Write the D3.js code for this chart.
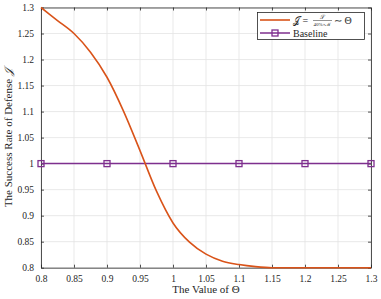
<!DOCTYPE html>
<html>
<head>
<script src="https://d3js.org/d3.v7.min.js"></script>
<style>
  body { margin: 0; background: #fff; }
  svg text { font-family: "Liberation Serif", "Times New Roman", serif; fill: #262626; }
</style>
</head>
<body>
<script>
// curve J = S / (40% x M) ~ Theta
var thetaValues = [0.8, 0.825, 0.85, 0.875, 0.9, 0.925, 0.95, 0.975, 1.0, 1.025, 1.05, 1.075, 1.1, 1.125, 1.15, 1.2, 1.25, 1.3];
var jValues     = [1.3, 1.275, 1.25, 1.214, 1.166, 1.101, 1.025, 0.947, 0.886, 0.849, 0.826, 0.8125, 0.806, 0.802, 0.8, 0.8, 0.8, 0.8];
// baseline with markers
var baseTheta = [0.8, 0.9, 1.0, 1.1, 1.2, 1.3];
var baseValues = [1, 1, 1, 1, 1, 1];
var xTicks = [0.8, 0.85, 0.9, 0.95, 1, 1.05, 1.1, 1.15, 1.2, 1.25, 1.3];
var yTicks = [0.8, 0.85, 0.9, 0.95, 1, 1.05, 1.1, 1.15, 1.2, 1.25, 1.3];

var W = 381, H = 299;
var pL = 41, pR = 371, pT = 7.5, pB = 267.7;
var serif = '"Liberation Serif", "Times New Roman", serif';

var svg = d3.select("body").append("svg")
    .attr("width", W)
    .attr("height", H)
    .attr("font-family", serif);

var x = d3.scaleLinear().domain([0.8, 1.3]).range([pL, pR]);
var y = d3.scaleLinear().domain([0.8, 1.3]).range([pB, pT]);

// grid
svg.append("g").selectAll("line").data(xTicks).enter().append("line")
    .attr("x1", function(d) { return x(d); }).attr("x2", function(d) { return x(d); })
    .attr("y1", pT).attr("y2", pB)
    .style("stroke", "#e3e3e3").style("stroke-width", 0.8);
svg.append("g").selectAll("line").data(yTicks).enter().append("line")
    .attr("y1", function(d) { return y(d); }).attr("y2", function(d) { return y(d); })
    .attr("x1", pL).attr("x2", pR)
    .style("stroke", "#e3e3e3").style("stroke-width", 0.8);

var fmt = function(d) { return String(+d.toFixed(2)); };

// axes (ticks inward)
var gx = svg.append("g").attr("transform", "translate(0," + pB + ")")
    .call(d3.axisBottom(x).tickValues(xTicks).tickSizeInner(-3).tickSizeOuter(0).tickPadding(8).tickFormat(fmt));
var gxt = svg.append("g").attr("transform", "translate(0," + pT + ")")
    .call(d3.axisTop(x).tickValues(xTicks).tickSizeInner(-3).tickSizeOuter(0).tickFormat(""));
var gy = svg.append("g").attr("transform", "translate(" + pL + ",0)")
    .call(d3.axisLeft(y).tickValues(yTicks).tickSizeInner(-3).tickSizeOuter(0).tickPadding(7).tickFormat(fmt));
var gyr = svg.append("g").attr("transform", "translate(" + pR + ",0)")
    .call(d3.axisRight(y).tickValues(yTicks).tickSizeInner(-3).tickSizeOuter(0).tickFormat(""));

[gx, gxt, gy, gyr].forEach(function(g) {
  g.attr("font-family", serif).attr("font-size", 9.5);
  g.select(".domain").style("stroke", "#262626").style("stroke-width", 0.8);
  g.selectAll(".tick line").style("stroke", "#262626").style("stroke-width", 0.8);
  g.selectAll("text").style("fill", "#262626");
});

// baseline
var baseData = baseTheta.map(function(t, i) { return {x: t, y: baseValues[i]}; });
var line = d3.line().x(function(d) { return x(d.x); }).y(function(d) { return y(d.y); });
svg.append("path").attr("d", line(baseData))
    .style("stroke", "#7E2F8E").style("stroke-width", 1.5).style("fill", "none");
svg.selectAll("rect.mk").data(baseData).enter().append("rect")
    .attr("class", "mk")
    .attr("x", function(d) { return x(d.x) - 3; })
    .attr("y", function(d) { return y(d.y) - 3; })
    .attr("width", 6).attr("height", 6)
    .style("fill", "none").style("stroke", "#7E2F8E").style("stroke-width", 1.3);

// curve
var curveData = thetaValues.map(function(t, i) { return {x: t, y: jValues[i]}; });
var curve = d3.line().curve(d3.curveMonotoneX)
    .x(function(d) { return x(d.x); }).y(function(d) { return y(d.y); });
svg.append("path").attr("d", curve(curveData))
    .style("stroke", "#D95319").style("stroke-width", 1.6).style("fill", "none");

// axis labels
svg.append("text")
    .attr("x", (pL + pR) / 2).attr("y", 293)
    .attr("text-anchor", "middle")
    .style("font-size", "11px")
    .text("The Value of Θ");
svg.append("text")
    .attr("transform", "translate(12," + ((pT + pB) / 2) + ") rotate(-90)")
    .attr("text-anchor", "middle")
    .style("font-size", "11px")
    .html("The Success Rate of Defense <tspan font-style='italic'>𝒥</tspan>");

// legend
var lg = svg.append("g");
lg.append("rect").attr("x", 257.5).attr("y", 12.5).attr("width", 107).attr("height", 27)
    .style("fill", "#fff").style("stroke", "#262626").style("stroke-width", 0.8);
lg.append("line").attr("x1", 260).attr("x2", 290).attr("y1", 20).attr("y2", 20)
    .style("stroke", "#D95319").style("stroke-width", 1.6);
lg.append("text").attr("x", 293).attr("y", 23.5).style("font-size", "10px").text("𝒥 = ");
lg.append("text").attr("x", 322).attr("y", 18.5).attr("text-anchor", "middle").style("font-size", "6px").text("𝒮");
lg.append("line").attr("x1", 313).attr("x2", 332).attr("y1", 20.5).attr("y2", 20.5)
    .style("stroke", "#262626").style("stroke-width", 0.5);
lg.append("text").attr("x", 322.5).attr("y", 26).attr("text-anchor", "middle").style("font-size", "5px").text("40%×ℳ");
lg.append("text").attr("x", 334).attr("y", 23.5).style("font-size", "10px").text("∼ Θ");
lg.append("line").attr("x1", 260).attr("x2", 290).attr("y1", 33).attr("y2", 33)
    .style("stroke", "#7E2F8E").style("stroke-width", 1.5);
lg.append("rect").attr("x", 272).attr("y", 30).attr("width", 6).attr("height", 6)
    .style("fill", "none").style("stroke", "#7E2F8E").style("stroke-width", 1.3);
lg.append("text").attr("x", 293).attr("y", 36.5).style("font-size", "10px").text("Baseline");
</script>
</body>
</html>
